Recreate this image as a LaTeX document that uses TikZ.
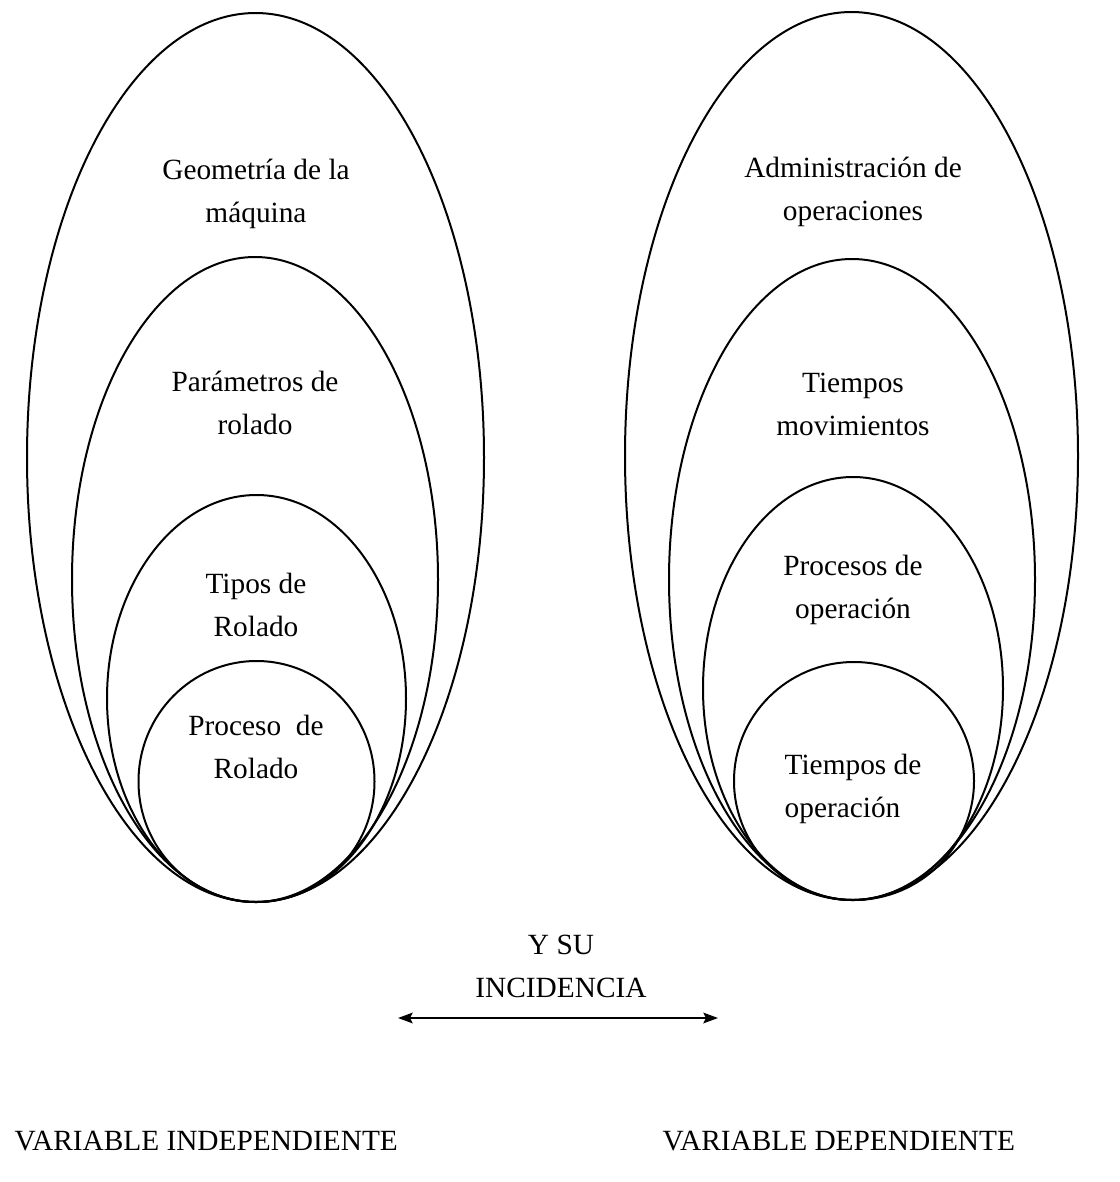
\documentclass[tikz,border=0pt]{standalone}
\usepackage{fontspec}
\setmainfont{Liberation Serif}
\usetikzlibrary{arrows.meta,shapes.geometric}

\begin{document}
\begin{tikzpicture}[x=0.75pt, y=-0.75pt,
                    every ring/.style = {},
                    ring/.style 2 args = {ellipse, draw=black, line width=1.5pt, inner sep=0pt,
                                          minimum width={1.5pt*#1}, minimum height={1.5pt*#2}, every ring},
                    setlabel/.style = {align=center, font=\fontsize{22}{32.3}\selectfont},
                    vartext/.style = {anchor=base west, font=\fontsize{22}{26}\selectfont}]
                \useasboundingbox (0,0) rectangle (1120,1182);
                % independent variable, left
                \node at (255.5,457.5) [ring={228.5}{444.5}] (geoRing) {};
                \node at (255,579.5) [ring={183}{322.5}] (parRing) {};
                \node at (256.5,698.5) [ring={149.5}{203.5}] (tipRing) {};
                \node at (256.5,781.5) [ring={118}{120.5}] (proRing) {};
                \node at (256,194) [setlabel] (geo) {Geometría de la\\máquina};
                \node at (255,403) [setlabel] (par) {Parámetros de\\rolado};
                \node at (256,604.5) [setlabel] (tip) {Tipos de\\Rolado};
                \node at (256,746.5) [setlabel] (pro) {Proceso~ de\\Rolado};
                % dependent variable, right
                \node at (851.5,456) [ring={226.5}{444}] (admRing) {};
                \node at (852,579.5) [ring={183}{320.5}] (movRing) {};
                \node at (853,688.5) [ring={150}{211.5}] (opeRing) {};
                \node at (854,781) [ring={120}{119}] (timRing) {};
                \node at (853,192) [setlabel] (adm) {Administración de\\operaciones};
                \node at (853,404.5) [setlabel] (mov) {Tiempos\\movimientos};
                \node at (853,589.5) [setlabel] (ope) {Procesos de\\operación};
                \node at (853,788.5) [setlabel, align=left] (tim) {Tiempos de\\operación};
                % incidence
                \node at (561,966) [setlabel] (inc) {Y SU\\INCIDENCIA};
                \coordinate (incLeft) at (398,1018);
                \coordinate (incRight) at (718,1018);
                \draw[{Stealth[length=11pt,width=8pt,inset=2pt]}-{Stealth[length=11pt,width=8pt,inset=2pt]}, line width=1.5pt] (incLeft) -- (incRight);
                % captions
                \node at (10,1150) [vartext] (indep) {VARIABLE INDEPENDIENTE};
                \node at (658,1150) [vartext] (dep) {VARIABLE DEPENDIENTE};
\end{tikzpicture}
\end{document}
